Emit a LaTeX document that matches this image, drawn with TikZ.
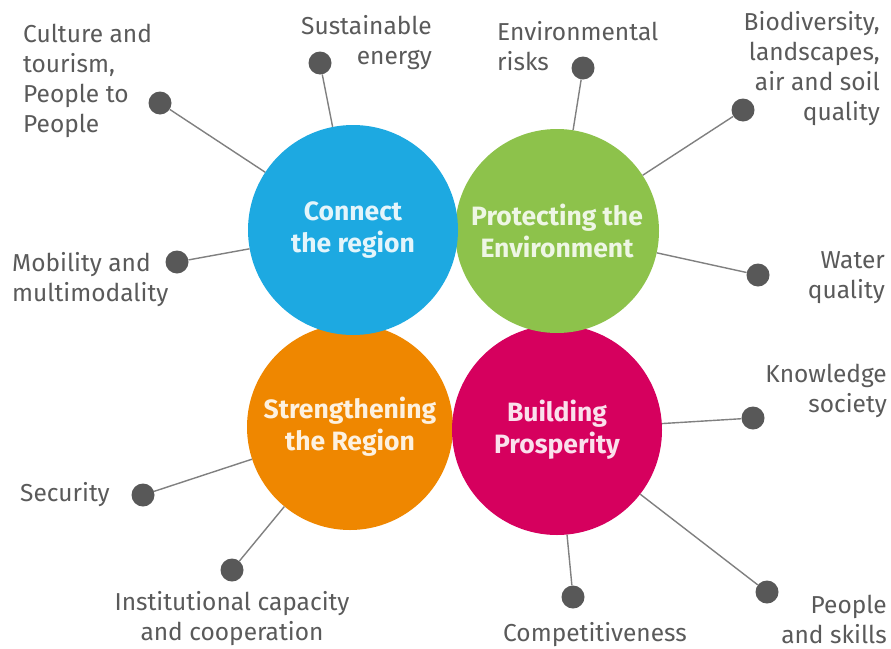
\documentclass[tikz,border=0pt]{standalone}
\usepackage{fontspec}
\setmainfont{Fira Sans}
\usepackage{xcolor}

\definecolor{conblue}{RGB}{29,169,225}
\definecolor{progreen}{RGB}{141,194,75}
\definecolor{strorange}{RGB}{239,135,0}
\definecolor{buimagenta}{RGB}{214,0,94}
\definecolor{spotgray}{RGB}{88,88,88}
\definecolor{labelgray}{RGB}{90,90,90}

\begin{document}
\begin{tikzpicture}[x=1pt, y=-1pt,
        topic/.style={circle, inner sep=0pt, align=center, font=\fontsize{26.5}{32}\selectfont\bfseries},
        spot/.style={circle, fill=spotgray, inner sep=0pt, minimum size=23pt},
        leaf/.style={inner sep=0pt, text=labelgray, font=\fontsize{24.5}{30}\selectfont},
        spoke/.style={draw=gray, line width=1.4pt}]
        \useasboundingbox [fill=white] (0,0) rectangle (891,648);

        \node [topic, fill=strorange, minimum size=206pt, text=white!88!strorange] (stren) at (350,427) {Strengthening\\the Region};
        \node [topic, fill=buimagenta, minimum size=210pt, text=white!88!buimagenta] (build) at (557,430) {Building\\Prosperity};
        \node [topic, fill=progreen, minimum size=204pt, text=white!85!progreen] (prot) at (557,231) {Protecting the\\Environment};
        \node [topic, fill=conblue, minimum size=210pt, text=white!88!conblue] (conn) at (353,230) {Connect\\the region};

        \foreach \n/\x/\y in {culture/160/103, energy/320/63, mobility/177/262,
                              risks/583/68, biodiv/743/110, water/758/275,
                              security/143/495, capacity/232/570,
                              knowledge/753/418, compet/573/597, skills/767/592}
        {
            \node [spot] (\n) at (\x,\y) {};
        }

        \foreach \a/\b in {culture/conn, energy/conn, mobility/conn,
                           risks/prot, biodiv/prot, water/prot,
                           security/stren, capacity/stren,
                           knowledge/build, compet/build, skills/build}
        {
            \draw [spoke] (\a) -- (\b);
        }

        \node [leaf, anchor=west, align=left] (culturetxt) at (23,81) {Culture and\\tourism,\\People to\\People};
        \node [leaf, anchor=east, align=right] (energytxt) at (432,43) {Sustainable\\energy};
        \node [leaf, anchor=west, align=left] (mobilitytxt) at (12,280) {Mobility and\\multimodality};
        \node [leaf, anchor=west, align=left] (riskstxt) at (497,46) {Environmental\\risks};
        \node [leaf, anchor=east, align=right] (biodivtxt) at (880,69) {Biodiversity,\\landscapes,\\air and soil\\quality};
        \node [leaf, anchor=east, align=right] (watertxt) at (885,278) {Water\\quality};
        \node [leaf, anchor=west] (securitytxt) at (20,495) {Security};
        \node [leaf, align=center] (capacitytxt) at (232,619) {Institutional capacity\\and cooperation};
        \node [leaf, anchor=east, align=right] (knowledgetxt) at (887,391) {Knowledge\\society};
        \node [leaf] (compettxt) at (595,635) {Competitiveness};
        \node [leaf, anchor=east, align=right] (skillstxt) at (887,619) {People\\and skills};
\end{tikzpicture}
\end{document}
